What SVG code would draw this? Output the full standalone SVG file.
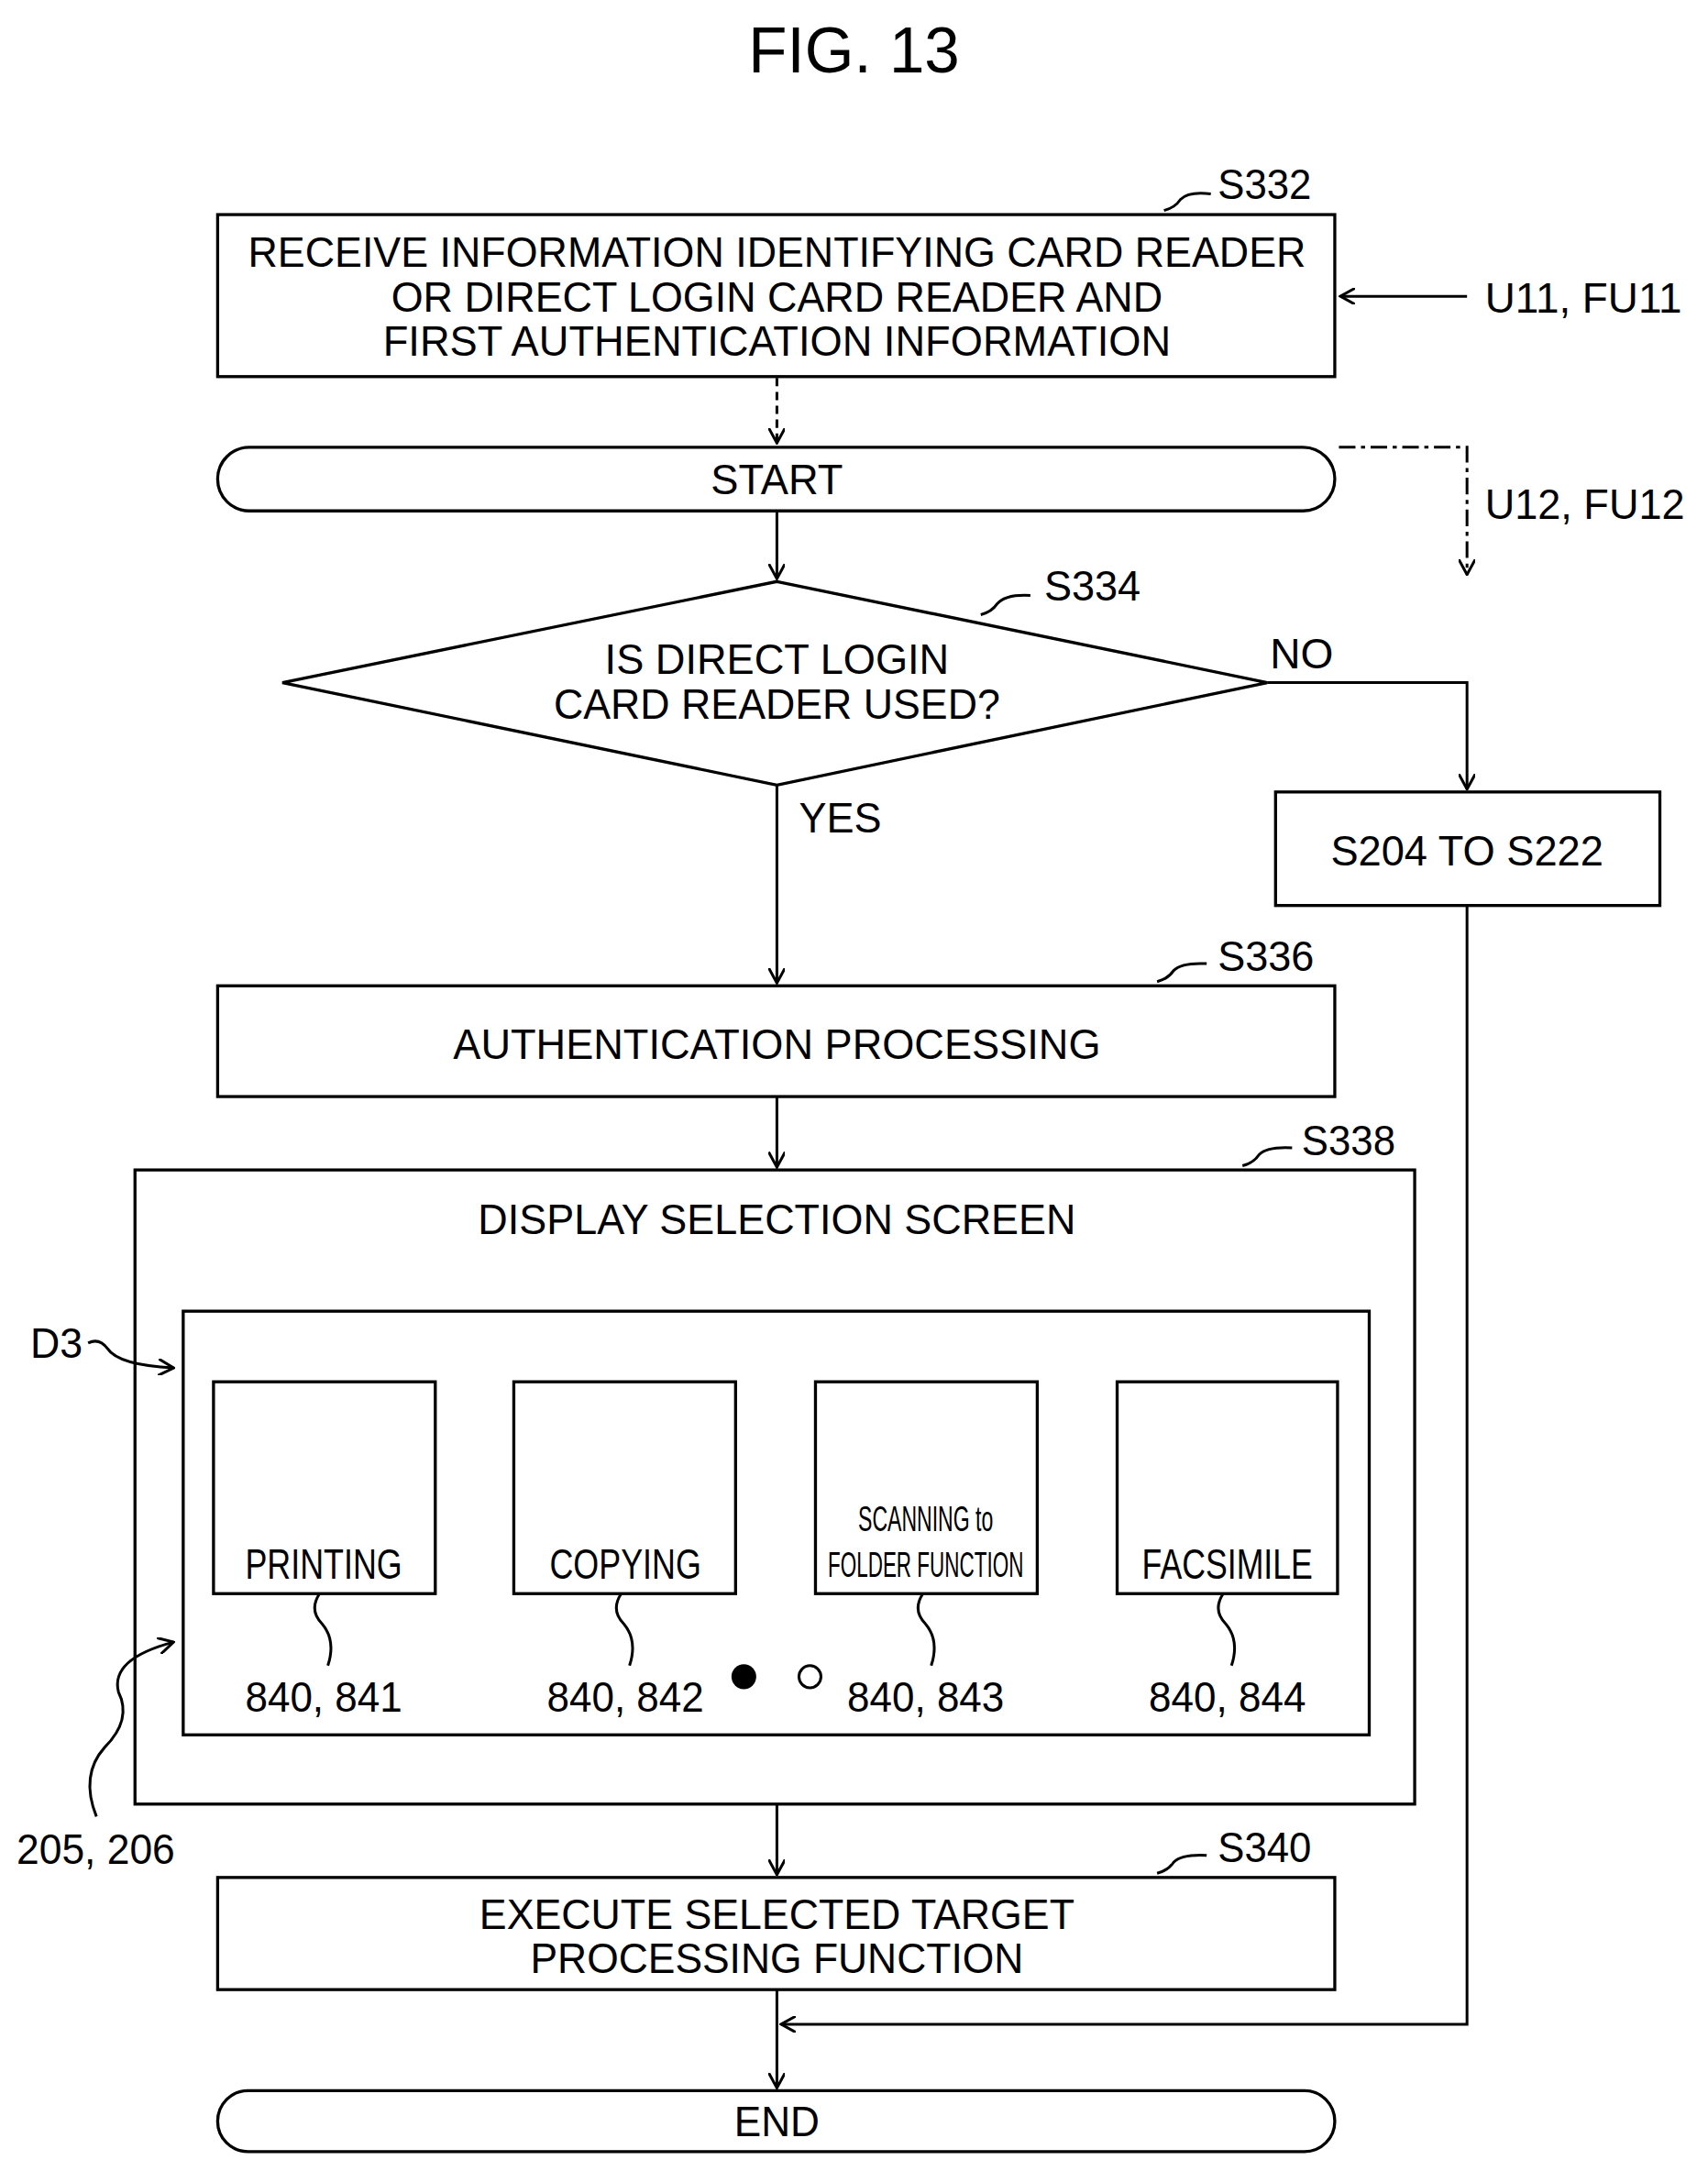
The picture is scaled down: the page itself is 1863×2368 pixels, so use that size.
<svg xmlns="http://www.w3.org/2000/svg" width="1863" height="2368" viewBox="0 0 1863 2368">
<style>
.b{fill:none;stroke:#000;stroke-width:2.2}
.l{fill:none;stroke:#000;stroke-width:2}
.t{font-family:"Liberation Sans",Arial,sans-serif;font-size:31px;fill:#000}
.c{text-anchor:middle}
</style>
<defs>
<marker id="a" markerWidth="12" markerHeight="12" refX="11" refY="6" orient="auto" markerUnits="userSpaceOnUse"><path d="M0,0 L11,6 L0,12" fill="none" stroke="#000" stroke-width="2"/></marker>
</defs>
<rect width="1863" height="2368" fill="#fff"/>
<g transform="scale(1.5025,1.5102)">
<text class="t c" x="620" y="52" style="font-size:46px">FIG. 13</text>
<g id="connectors">
<line class="l" x1="1065" y1="214" x2="973" y2="214" marker-end="url(#a)"/>
<line class="l" x1="564" y1="273" x2="564" y2="320" stroke-dasharray="6,4" marker-end="url(#a)"/>
<polyline class="l" points="972,323 1065,323 1065,415" stroke-dasharray="12,4,3,4" marker-end="url(#a)"/>
<line class="l" x1="564" y1="369" x2="564" y2="418" marker-end="url(#a)"/>
<polyline class="l" points="920,493 1065,493 1065,570" marker-end="url(#a)"/>
<line class="l" x1="564" y1="567" x2="564" y2="710" marker-end="url(#a)"/>
<line class="l" x1="564" y1="792" x2="564" y2="843" marker-end="url(#a)"/>
<line class="l" x1="564" y1="1303" x2="564" y2="1354" marker-end="url(#a)"/>
<polyline class="l" points="1065,654 1065,1462 567,1462" marker-end="url(#a)"/>
<line class="l" x1="564" y1="1437" x2="564" y2="1508" marker-end="url(#a)"/>
</g>
<g id="s332">
<rect class="b" x="158" y="155" width="811" height="117"/>
<text class="t c" x="564" y="193" textLength="768" lengthAdjust="spacingAndGlyphs">RECEIVE INFORMATION IDENTIFYING CARD READER</text>
<text class="t c" x="564" y="225" textLength="560" lengthAdjust="spacingAndGlyphs">OR DIRECT LOGIN CARD READER AND</text>
<text class="t c" x="564" y="257" textLength="572" lengthAdjust="spacingAndGlyphs">FIRST AUTHENTICATION INFORMATION</text>
<path class="l" d="M845,152 q8,-2 12,-8 q6,-6 22,-4"/>
<text class="t" x="884" y="144" textLength="68" lengthAdjust="spacingAndGlyphs">S332</text>
<text class="t" x="1078" y="226" textLength="143" lengthAdjust="spacingAndGlyphs">U11, FU11</text>
</g>
<g id="start">
<rect class="b" x="158" y="323" width="811" height="46" rx="23"/>
<text class="t c" x="564" y="357" textLength="96" lengthAdjust="spacingAndGlyphs">START</text>
<text class="t" x="1078" y="375" textLength="145" lengthAdjust="spacingAndGlyphs">U12, FU12</text>
</g>
<g id="s334">
<polygon class="b" points="564,420 920,493 564,567 205,493"/>
<text class="t c" x="564" y="487" textLength="250" lengthAdjust="spacingAndGlyphs">IS DIRECT LOGIN</text>
<text class="t c" x="564" y="519" textLength="324" lengthAdjust="spacingAndGlyphs">CARD READER USED?</text>
<path class="l" d="M712,444 q8,-2 12,-8 q6,-7 24,-6"/>
<text class="t" x="758" y="434" textLength="70" lengthAdjust="spacingAndGlyphs">S334</text>
<text class="t" x="922" y="483" textLength="46" lengthAdjust="spacingAndGlyphs">NO</text>
<text class="t" x="580" y="601" textLength="60" lengthAdjust="spacingAndGlyphs">YES</text>
</g>
<g id="s204">
<rect class="b" x="926" y="572" width="279" height="82"/>
<text class="t c" x="1065" y="625" textLength="198" lengthAdjust="spacingAndGlyphs">S204 TO S222</text>
</g>
<g id="s336">
<rect class="b" x="158" y="712" width="811" height="80"/>
<text class="t c" x="564" y="765" textLength="470" lengthAdjust="spacingAndGlyphs">AUTHENTICATION PROCESSING</text>
<path class="l" d="M840,709 q8,-2 12,-8 q6,-6 24,-5"/>
<text class="t" x="884" y="701" textLength="70" lengthAdjust="spacingAndGlyphs">S336</text>
</g>
<g id="s338">
<rect class="b" x="98" y="845" width="929" height="458"/>
<text class="t c" x="564" y="891" textLength="434" lengthAdjust="spacingAndGlyphs">DISPLAY SELECTION SCREEN</text>
<path class="l" d="M902,842 q8,-2 12,-8 q6,-6 24,-5"/>
<text class="t" x="945" y="834" textLength="68" lengthAdjust="spacingAndGlyphs">S338</text>
</g>
<g id="d3">
<rect class="b" x="133" y="947" width="861" height="306"/>
<text class="t" x="22" y="981" textLength="38" lengthAdjust="spacingAndGlyphs">D3</text>
<path class="l" d="M64,970 q8,-4 14,4 q8,12 48,14" marker-end="url(#a)"/>
<text class="t" x="12" y="1346" textLength="115" lengthAdjust="spacingAndGlyphs">205, 206</text>
<path class="l" d="M70,1312 q-12,-30 6,-50 q20,-20 10,-40 q-6,-24 40,-36" marker-end="url(#a)"/>
</g>
<g id="printing">
<rect class="b" x="155" y="998" width="161" height="153"/>
<text class="t c" x="235" y="1140" textLength="114" lengthAdjust="spacingAndGlyphs">PRINTING</text>
<path class="l" d="M232,1151 q-8,12 2,22 q10,12 4,30"/>
<text class="t c" x="235" y="1236" textLength="114" lengthAdjust="spacingAndGlyphs">840, 841</text>
</g>
<g id="copying">
<rect class="b" x="373" y="998" width="161" height="153"/>
<text class="t c" x="454" y="1140" textLength="110" lengthAdjust="spacingAndGlyphs">COPYING</text>
<path class="l" d="M451,1151 q-8,12 2,22 q10,12 4,30"/>
<text class="t c" x="454" y="1236" textLength="114" lengthAdjust="spacingAndGlyphs">840, 842</text>
</g>
<g id="scanning">
<rect class="b" x="592" y="998" width="161" height="153"/>
<text class="t c" x="672" y="1106" textLength="98" lengthAdjust="spacingAndGlyphs" style="font-size:26px">SCANNING to</text>
<text class="t c" x="672" y="1139" textLength="142" lengthAdjust="spacingAndGlyphs" style="font-size:26px">FOLDER FUNCTION</text>
<path class="l" d="M670,1151 q-8,12 2,22 q10,12 4,30"/>
<text class="t c" x="672" y="1236" textLength="114" lengthAdjust="spacingAndGlyphs">840, 843</text>
</g>
<g id="facsimile">
<rect class="b" x="811" y="998" width="160" height="153"/>
<text class="t c" x="891" y="1140" textLength="124" lengthAdjust="spacingAndGlyphs">FACSIMILE</text>
<path class="l" d="M888,1151 q-8,12 2,22 q10,12 4,30"/>
<text class="t c" x="891" y="1236" textLength="114" lengthAdjust="spacingAndGlyphs">840, 844</text>
</g>
<g id="dots">
<circle cx="540" cy="1211" r="9" fill="#000"/>
<circle cx="588" cy="1211" r="8" fill="none" stroke="#000" stroke-width="2"/>
</g>
<g id="s340">
<rect class="b" x="158" y="1356" width="811" height="81"/>
<text class="t c" x="564" y="1393" textLength="432" lengthAdjust="spacingAndGlyphs">EXECUTE SELECTED TARGET</text>
<text class="t c" x="564" y="1425" textLength="358" lengthAdjust="spacingAndGlyphs">PROCESSING FUNCTION</text>
<path class="l" d="M840,1353 q8,-2 12,-8 q6,-6 24,-5"/>
<text class="t" x="884" y="1345" textLength="68" lengthAdjust="spacingAndGlyphs">S340</text>
</g>
<g id="end">
<rect class="b" x="158" y="1510" width="811" height="44" rx="22"/>
<text class="t c" x="564" y="1543" textLength="62" lengthAdjust="spacingAndGlyphs">END</text>
</g>
</g>
</svg>
